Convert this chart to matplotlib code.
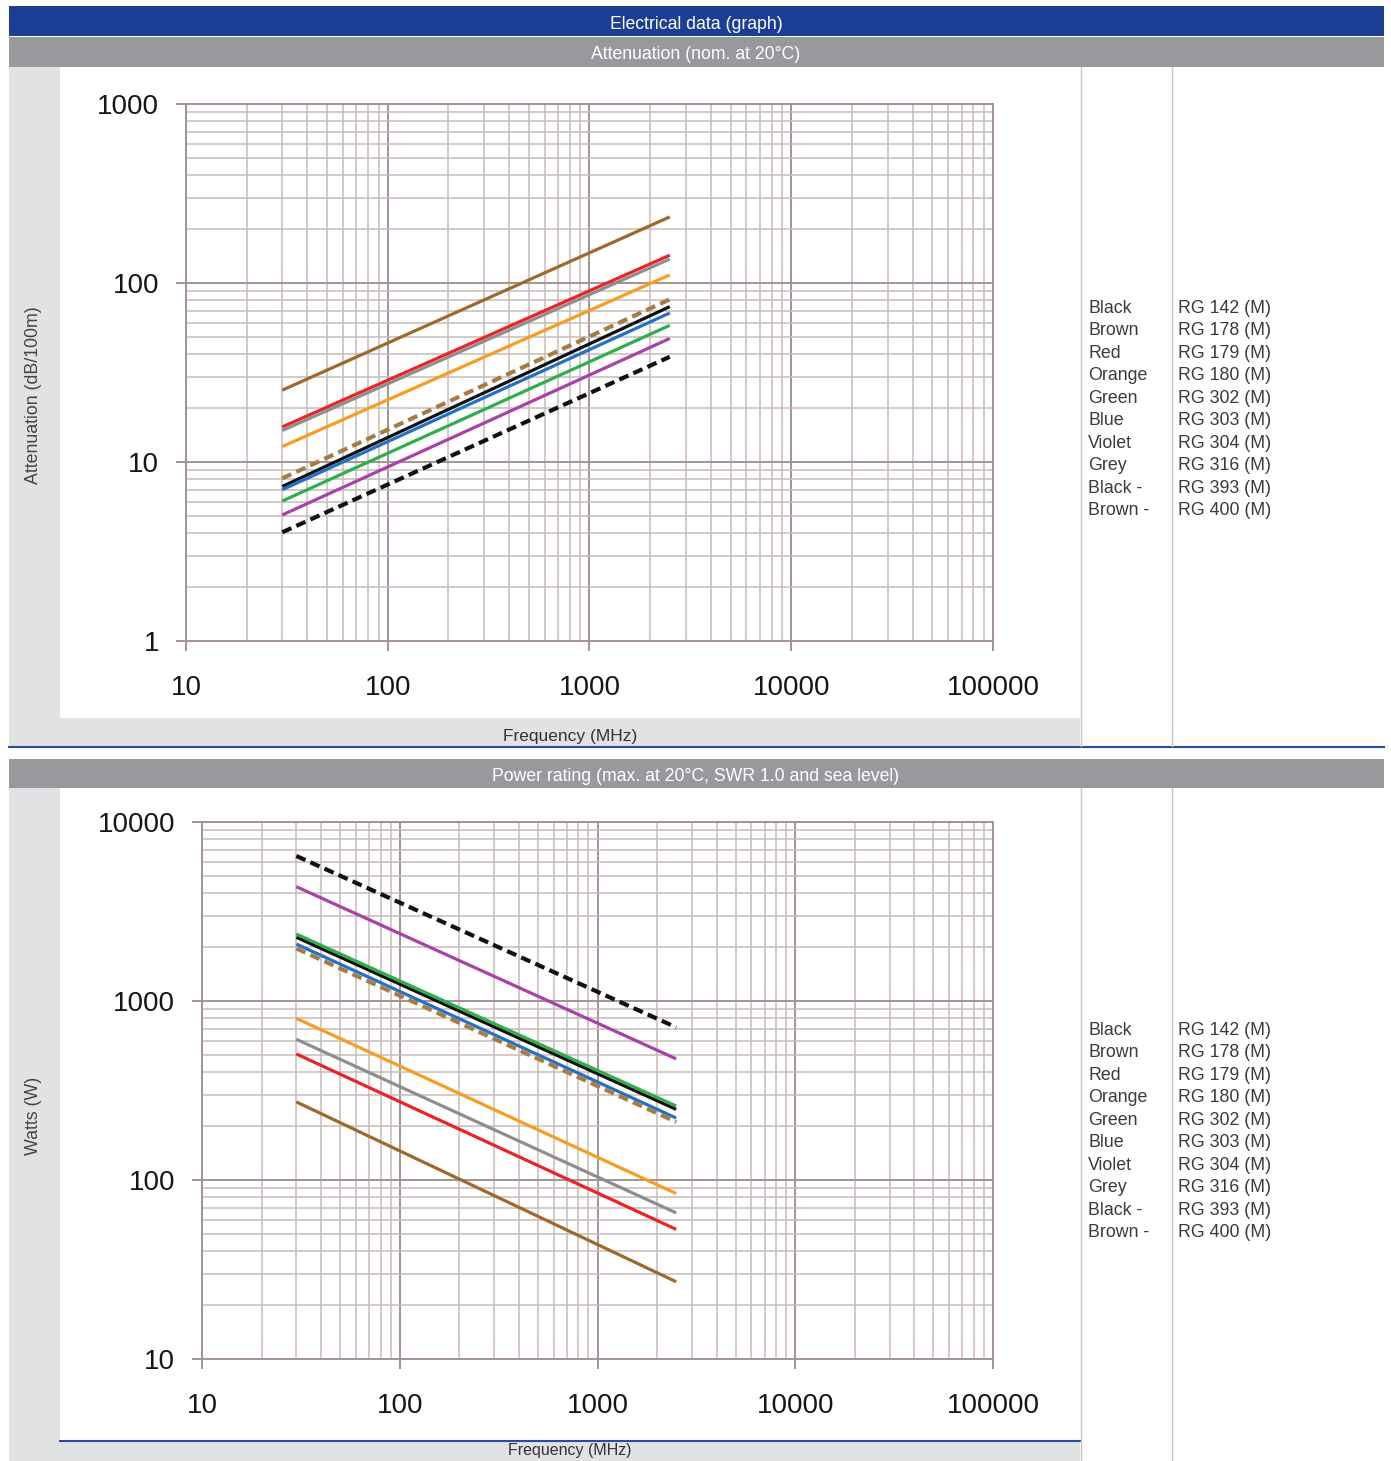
import matplotlib
matplotlib.use('Agg')
import matplotlib.pyplot as plt
from matplotlib.patches import Rectangle
from matplotlib.lines import Line2D
from matplotlib.ticker import LogLocator, NullFormatter

plt.rcParams['font.family'] = ['Liberation Sans', 'DejaVu Sans']

# ---------------- data ----------------
freq_mhz = [30, 2500]
colour_names = ['Black', 'Brown', 'Red', 'Orange', 'Green', 'Blue', 'Violet', 'Grey', 'Black -', 'Brown -']
cable_names = ['RG 142 (M)', 'RG 178 (M)', 'RG 179 (M)', 'RG 180 (M)', 'RG 302 (M)',
               'RG 303 (M)', 'RG 304 (M)', 'RG 316 (M)', 'RG 393 (M)', 'RG 400 (M)']
line_colours = ['#111111', '#a0682c', '#ec2227', '#f89c24', '#2fae4b',
                '#2271c4', '#a841a8', '#8e8e8e', '#111111', '#a87b45']
dashed = [False, False, False, False, False, False, False, False, True, True]

atten_at_30 = [7.3, 25.2, 15.7, 12.2, 6.05, 7.0, 5.06, 15.0, 4.05, 8.1]
atten_at_2500 = [73.8, 234, 143, 111, 58, 68, 49, 136, 38.7, 81]

power_at_30 = [2270, 273, 506, 800, 2365, 2080, 4350, 611, 6460, 1966]
power_at_2500 = [248, 27, 53, 84, 259, 222, 475, 65.5, 713, 211]

x_ticks = [10, 100, 1000, 10000, 100000]
x_tick_labels = ['10', '100', '1000', '10000', '100000']
atten_ticks = [1, 10, 100, 1000]
atten_tick_labels = ['1', '10', '100', '1000']
power_ticks = [10, 100, 1000, 10000]
power_tick_labels = ['10', '100', '1000', '10000']

# ---------------- figure ----------------
W, H = 1391, 1461
fig = plt.figure(figsize=(W / 100, H / 100), dpi=100)


def rect(x0, y0, x1, y1, color, z=-10):
    fig.add_artist(Rectangle((x0 / W, 1 - y1 / H), (x1 - x0) / W, (y1 - y0) / H,
                             transform=fig.transFigure, facecolor=color,
                             edgecolor='none', zorder=z))


def hline(x0, x1, y, color, lw):
    fig.add_artist(Line2D([x0 / W, x1 / W], [1 - y / H, 1 - y / H],
                          transform=fig.transFigure, color=color, lw=lw, zorder=-5))


def vline(x, y0, y1, color, lw):
    fig.add_artist(Line2D([x / W, x / W], [1 - y0 / H, 1 - y1 / H],
                          transform=fig.transFigure, color=color, lw=lw, zorder=-5))


def text(x, y, s, **kw):
    fig.text(x / W, 1 - (y + 2.5) / H, s, **kw)


BLUE = '#1c3f95'
BAR_GREY = '#98999d'
PANEL = '#e1e2e4'
SEP = '#c6c6c6'

# header bars
rect(9, 6, 1384, 36, BLUE)
rect(9, 37, 1384, 67, BAR_GREY)
text(696, 22, 'Electrical data (graph)', color='white', fontsize=12.7, ha='center', va='center')
text(696, 52, 'Attenuation (nom. at 20°C)', color='white', fontsize=12.7, ha='center', va='center')

# top panel
rect(9, 67, 1080, 746, PANEL)
rect(60, 67, 1080, 718, 'white')
hline(9, 1384, 746.5, '#2b4c9c', 1.5)
vline(1080.5, 67, 746, SEP, 1)
vline(1171.5, 67, 746, SEP, 1)
text(570, 734, 'Frequency (MHz)', color='#333333', fontsize=12.5, ha='center', va='center')
text(34, 393, 'Attenuation (dB/100m)', color='#444444', fontsize=12.8, ha='center',
     va='center', rotation=90)

# bottom panel
rect(9, 759, 1384, 788, BAR_GREY)
text(696, 774, 'Power rating (max. at 20°C, SWR 1.0 and sea level)', color='white',
     fontsize=12.7, ha='center', va='center')
rect(9, 788, 1080, 1461, PANEL)
rect(60, 788, 1080, 1440, 'white')
hline(60, 1080, 1440.5, '#2b4c9c', 1.5)
vline(1080.5, 788, 1461, SEP, 1)
vline(1171.5, 788, 1461, SEP, 1)
text(570, 1448.5, 'Frequency (MHz)', color='#333333', fontsize=11.5, ha='center', va='center')
text(34, 1113, 'Watts (W)', color='#444444', fontsize=12.8, ha='center', va='center', rotation=90)

# legends
for i, (c, n) in enumerate(zip(colour_names, cable_names)):
    for y0 in (306, 1028):
        y = y0 + i * 22.44
        text(1088, y, c, color='#3a3a3a', fontsize=12.8, ha='left', va='center')
        text(1178, y, n, color='#3a3a3a', fontsize=12.8, ha='left', va='center')

MAJOR = '#a39393'
MINOR = '#c6baba'


def style_axes(ax, yticks, ylabels, ylim, ypad, xpad):
    ax.set_facecolor('none')
    ax.set_xscale('log')
    ax.set_yscale('log')
    ax.set_xlim(10, 100000)
    ax.set_ylim(*ylim)
    ax.set_xticks(x_ticks)
    ax.set_xticklabels(x_tick_labels)
    ax.set_yticks(yticks)
    ax.set_yticklabels(ylabels)
    ax.xaxis.set_minor_locator(LogLocator(base=10, subs=range(2, 10), numticks=20))
    ax.yaxis.set_minor_locator(LogLocator(base=10, subs=range(2, 10), numticks=20))
    ax.xaxis.set_minor_formatter(NullFormatter())
    ax.yaxis.set_minor_formatter(NullFormatter())
    ax.grid(which='major', color=MAJOR, lw=1.4)
    ax.grid(which='minor', color=MINOR, lw=1.1)
    ax.tick_params(which='major', length=7.5, width=1.4, color=MAJOR, direction='out',
                   labelsize=20, labelcolor='#151515')
    ax.tick_params(axis='y', which='major', pad=ypad)
    ax.tick_params(axis='x', which='major', pad=xpad)
    ax.tick_params(which='minor', length=0)
    for s in ax.spines.values():
        s.set_color(MAJOR)
        s.set_linewidth(1.4)


def draw_lines(ax, start, end):
    for i in range(len(cable_names)):
        if dashed[i]:
            ax.plot(freq_mhz, [start[i], end[i]], color=line_colours[i], lw=3.0,
                    dashes=(2.4, 1.3), solid_capstyle='butt', zorder=3)
        else:
            ax.plot(freq_mhz, [start[i], end[i]], color=line_colours[i], lw=2.3,
                    solid_capstyle='butt', zorder=3)


# top chart
ax1 = fig.add_axes([186 / W, 1 - 641 / H, (993 - 186) / W, (641 - 104) / H])
style_axes(ax1, atten_ticks, atten_tick_labels, (1, 1000), 12, 17)
draw_lines(ax1, atten_at_30, atten_at_2500)

# bottom chart
ax2 = fig.add_axes([202 / W, 1 - 1359 / H, (993 - 202) / W, (1359 - 822) / H])
style_axes(ax2, power_ticks, power_tick_labels, (10, 10000), 12, 17)
draw_lines(ax2, power_at_30, power_at_2500)

fig.savefig('out.png', dpi=100)
